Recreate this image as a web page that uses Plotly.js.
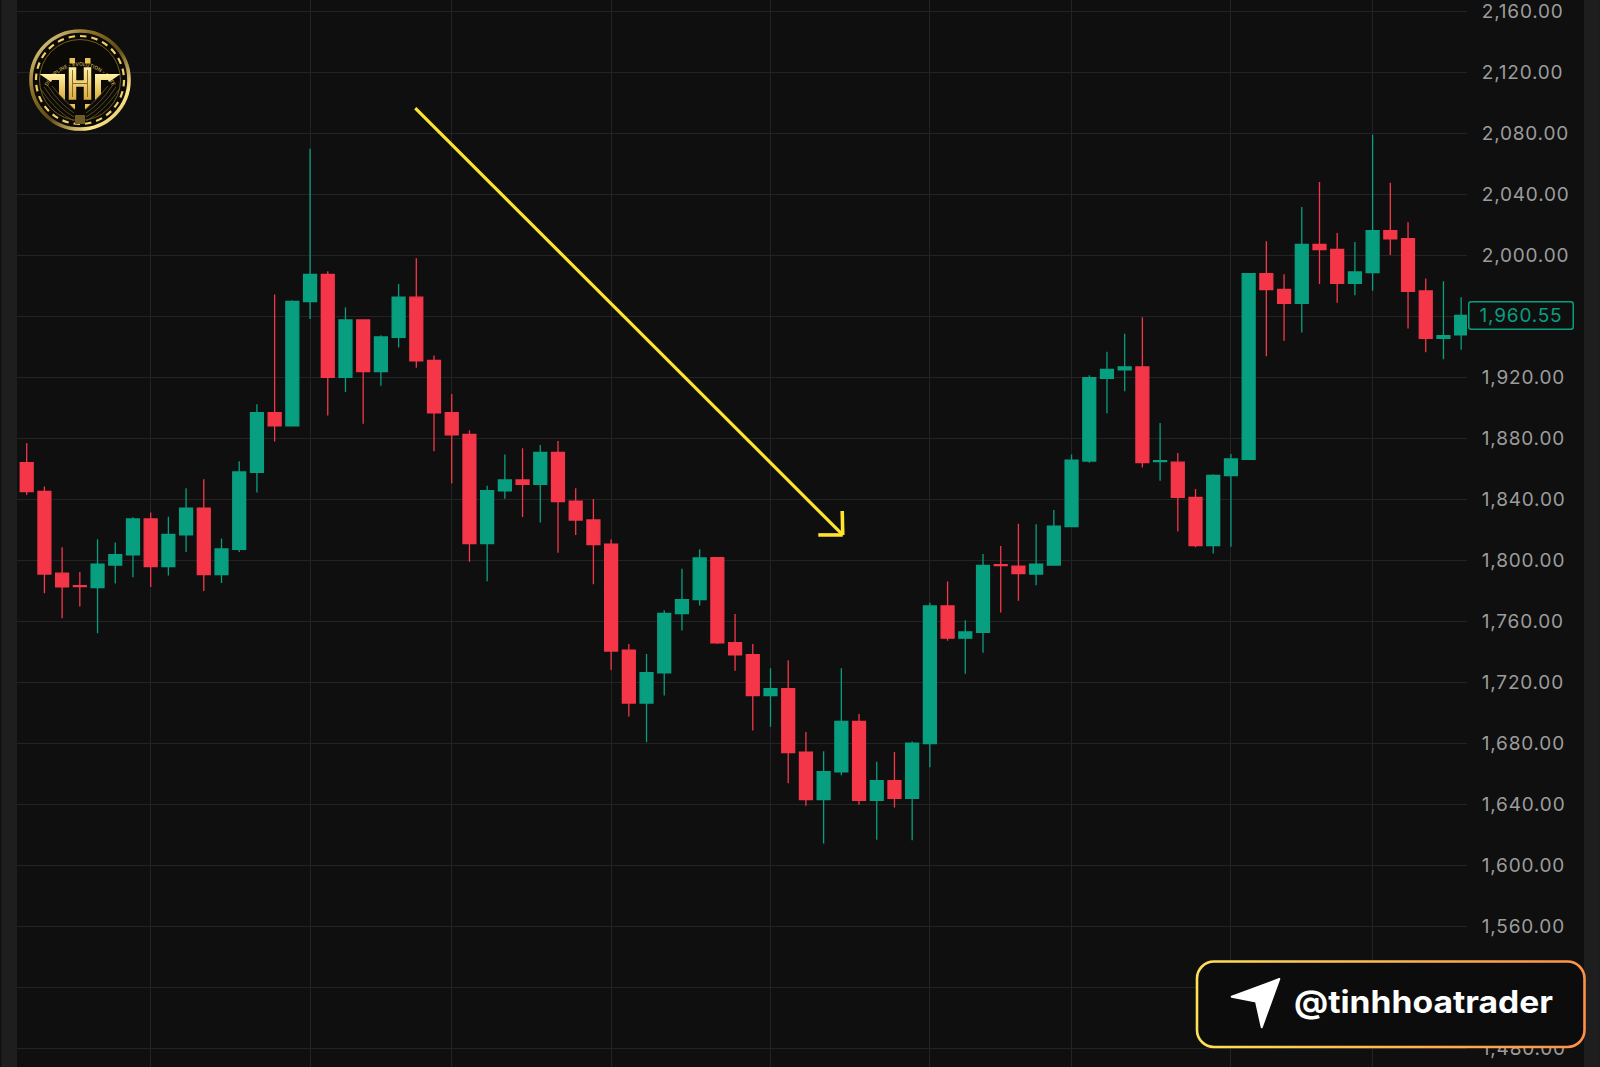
<!DOCTYPE html>
<html>
<head>
<meta charset="utf-8">
<script src="https://cdn.plot.ly/plotly-3.0.1.min.js"></script>
<style>
html,body{margin:0;padding:0;background:#0f0f0f;width:1600px;height:1067px;overflow:hidden}
#chart{position:absolute;left:0;top:0;width:1600px;height:1067px}
#over{position:absolute;left:0;top:0;width:1600px;height:1067px;pointer-events:none}
.ytick text{letter-spacing:0.8px}
.annotation-text-g text, .annotation text{letter-spacing:0.8px}
.annotation rect{rx:2.5px;ry:2.5px}
</style>
</head>
<body>
<div id="chart"></div>
<svg id="over" viewBox="0 0 1600 1067" xmlns="http://www.w3.org/2000/svg">
  <defs>
    <linearGradient id="badgeGrad" x1="0" y1="0" x2="1" y2="0">
      <stop offset="0" stop-color="#ffdf58"/><stop offset="1" stop-color="#ff9146"/>
    </linearGradient>
    <linearGradient id="coinRing" x1="0" y1="0" x2="1" y2="1">
      <stop offset="0" stop-color="#fff0a8"/><stop offset="0.3" stop-color="#8f7228"/>
      <stop offset="0.55" stop-color="#5f4a14"/><stop offset="0.8" stop-color="#ffe88c"/><stop offset="1" stop-color="#c9a544"/>
    </linearGradient>
    <linearGradient id="coinGold" x1="0" y1="0" x2="0" y2="1">
      <stop offset="0" stop-color="#fff2a6"/><stop offset="1" stop-color="#d9a93e"/>
    </linearGradient>
    <path id="coinArc" d="M 46 90 A 36 36 0 0 1 114 90"/>
  </defs>
  <!-- logo -->
  <circle cx="80" cy="80" r="49" fill="#0b0a06" stroke="url(#coinRing)" stroke-width="3.6"/>
  <circle cx="80" cy="80" r="44" fill="none" stroke="#efd06a" stroke-width="2.2" stroke-dasharray="6.5 5"/>
  <circle cx="80" cy="80" r="40.5" fill="none" stroke="#7a6426" stroke-width="0.9"/>
  <text font-family="Inter, sans-serif" font-size="5" font-weight="600" fill="#b89a4a"><textPath href="#coinArc" startOffset="50%" text-anchor="middle">DISCIPLINE - EVOLUTION - ELITE</textPath></text>
  <g fill="none" stroke="#6d5a24" stroke-width="0.8">
    <path d="M40 88 Q56 112 74 121"/><path d="M44 87 Q58 108 74 117"/><path d="M48 86 Q60 104 74 113"/><path d="M52 86 Q63 100 74 109"/>
    <path d="M120 88 Q104 112 86 121"/><path d="M116 87 Q102 108 86 117"/><path d="M112 86 Q100 104 86 113"/><path d="M108 86 Q97 100 86 109"/>
  </g>
  <rect x="75" y="115" width="10" height="9" fill="#6d5a24"/>
  <path d="M39.5 74 H65 V100 L59 94 V80 H52 L51 82 Z" fill="url(#coinGold)"/>
  <path d="M120.5 74 H95 V100 L101 94 V80 H108 L109 82 Z" fill="url(#coinGold)"/>
  <path d="M68.5 67 H76.5 V80 H83.5 V67 H91.5 V100 H83.5 V87 H76.5 V100 H68.5 Z" fill="url(#coinGold)" stroke="#0b0a06" stroke-width="0.5"/>
  <path d="M72.5 70 V97 M87.5 70 V97 M73 83.5 H87" fill="none" stroke="#7a5f1e" stroke-width="0.9"/>
  <path d="M69.5 58 L75 58 V63.5 H69.5 Z M90.5 58 L85 58 V63.5 H90.5 Z M69.5 104 H75 V109.5 Z M90.5 104 H85 V109.5 Z" fill="#e8c258"/>
  <!-- badge -->
  <rect x="1197" y="961.5" width="387.5" height="85.5" rx="17" ry="17" fill="#0c0c0c" stroke="url(#badgeGrad)" stroke-width="2.6"/>
  <path d="M1279.3 979 L1231.7 996.7 L1256 1001.5 L1261.7 1027.3 Z" fill="#ffffff" stroke="#ffffff" stroke-width="2" stroke-linejoin="round"/>
  <text x="1294" y="1013" font-family="Inter, sans-serif" font-size="31" font-weight="700" fill="#ffffff" textLength="259" lengthAdjust="spacingAndGlyphs">@tinhhoatrader</text>
</svg>
<script>
const candleIndex = [0,1,2,3,4,5,6,7,8,9,10,11,12,13,14,15,16,17,18,19,20,21,22,23,24,25,26,27,28,29,30,31,32,33,34,35,36,37,38,39,40,41,42,43,44,45,46,47,48,49,50,51,52,53,54,55,56,57,58,59,60,61,62,63,64,65,66,67,68,69,70,71,72,73,74,75,76,77,78,79,80,81];
const opens = [1864.0,1845.2,1791.5,1783.4,1782.1,1796.9,1803.5,1827.1,1795.8,1816.6,1834.1,1790.6,1807.2,1857.7,1896.8,1888.1,1969.6,1987.5,1920.0,1957.6,1923.7,1946.2,1972.5,1931.1,1896.8,1882.6,1810.9,1845.5,1852.7,1849.8,1870.8,1838.7,1826.4,1810.5,1741.0,1706.4,1726.1,1765.0,1774.2,1801.7,1746.0,1738.1,1711.3,1715.8,1674.1,1643.1,1661.2,1694.4,1642.6,1655.5,1643.9,1679.8,1770.0,1748.9,1752.8,1797.2,1796.1,1791.0,1796.9,1822.1,1865.1,1919.3,1924.8,1926.8,1864.7,1864.3,1841.3,1809.6,1855.5,1866.2,1988.0,1977.7,1968.5,2007.2,2003.9,1981.6,1988.6,2016.2,2010.9,1976.6,1945.6,1947.8];
const highs = [1876.7,1848.3,1808.5,1792.3,1813.8,1811.6,1828.2,1831.3,1828.6,1847.2,1853.1,1814.2,1864.9,1902.3,1974.2,1970.5,2069.9,1989.5,1965.7,1957.6,1947.5,1981.2,1998.0,1934.2,1909.1,1885.2,1848.9,1869.3,1873.4,1875.6,1878.2,1847.2,1840.2,1813.8,1745.1,1738.6,1767.2,1794.5,1807.2,1801.7,1764.8,1745.1,1729.2,1734.4,1687.4,1674.8,1729.2,1699.2,1667.8,1674.3,1681.1,1772.2,1786.0,1760.6,1804.1,1809.4,1824.0,1823.6,1833.0,1869.3,1921.3,1936.8,1948.6,1959.3,1890.0,1870.4,1846.8,1856.4,1869.7,1988.2,2009.2,1987.5,2031.7,2048.1,2014.6,2008.7,2079.1,2047.6,2021.6,1984.7,1982.9,1972.5];
const lows = [1842.8,1778.3,1762.0,1769.6,1752.1,1784.7,1788.8,1782.5,1790.0,1805.5,1779.9,1785.1,1805.5,1844.4,1877.8,1887.9,1958.2,1894.9,1910.4,1889.6,1914.5,1939.5,1926.3,1871.5,1850.3,1799.1,1786.2,1840.4,1828.4,1824.7,1805.0,1816.6,1784.3,1728.1,1697.5,1680.6,1711.3,1753.9,1770.3,1745.1,1727.6,1688.3,1690.9,1653.8,1639.1,1614.2,1659.0,1639.6,1616.8,1637.8,1616.4,1664.3,1747.3,1725.5,1739.4,1765.7,1773.5,1783.6,1796.7,1821.9,1864.0,1896.4,1910.8,1860.8,1852.2,1818.8,1808.5,1804.4,1808.9,1866.0,1933.8,1944.0,1949.3,1981.2,1968.9,1973.8,1976.8,2000.2,1951.9,1936.4,1931.8,1938.1];
const closes = [1845.0,1791.0,1782.5,1782.7,1797.4,1803.7,1827.1,1795.8,1817.0,1834.1,1790.6,1807.4,1857.9,1896.8,1888.1,1969.8,1987.5,1920.0,1957.6,1923.7,1946.4,1972.5,1930.7,1896.6,1882.2,1810.9,1845.7,1852.7,1849.8,1870.8,1838.5,1826.4,1810.3,1740.5,1706.4,1726.3,1765.2,1774.2,1801.5,1745.8,1737.9,1711.3,1715.8,1673.9,1643.1,1661.4,1694.4,1642.6,1655.5,1643.9,1680.0,1770.0,1748.9,1753.0,1796.7,1796.5,1791.3,1797.4,1822.3,1865.6,1919.8,1925.2,1926.8,1864.0,1865.3,1841.3,1809.6,1855.7,1866.4,1988.0,1977.5,1968.5,2007.2,2003.7,1981.6,1989.1,2016.2,2010.7,1976.4,1945.6,1947.3,1960.55];

const priceTicks = [1480,1520,1560,1600,1640,1680,1720,1760,1800,1840,1880,1920,1960,2000,2040,2080,2120,2160];
const priceLabels = ['1,480.00','','1,560.00','1,600.00','1,640.00','1,680.00','1,720.00','1,760.00','1,800.00','1,840.00','1,880.00','1,920.00','','2,000.00','2,040.00','2,080.00','2,120.00','2,160.00'];
const timeGridAt = [7,16,24,33,42,51,59,68,76];
const lastPrice = 1960.55;
const arrowStart = [21.94,2096.5];
const arrowTip = [46.08,1816.6];
const arrowBarbUp = [46.05,1832.3];
const arrowBarbLeft = [44.70,1816.6];

const UP = '#089e80', DOWN = '#f53649', GRID = '#232323', BG = '#0f0f0f';

const trace = {
  type:'candlestick', x:candleIndex, open:opens, high:highs, low:lows, close:closes,
  increasing:{line:{color:UP,width:1.3},fillcolor:UP},
  decreasing:{line:{color:DOWN,width:1.3},fillcolor:DOWN},
  whiskerwidth:0, hoverinfo:'skip', showlegend:false
};

const layout = {
  width:1600, height:1067, margin:{l:17,r:133,t:0,b:0,pad:0},
  paper_bgcolor:BG, plot_bgcolor:BG, showlegend:false, boxgap:0.27, boxgroupgap:0,
  font:{family:'Inter, sans-serif'},
  xaxis:{range:[-0.548,81.33], tickmode:'array', tickvals:timeGridAt, showticklabels:false, ticks:'',
         showgrid:true, gridcolor:GRID, gridwidth:1, zeroline:false, showline:false, rangeslider:{visible:false}, fixedrange:true},
  yaxis:{range:[1467.7,2167.4], side:'right', tickmode:'array', tickvals:priceTicks, ticktext:priceLabels,
         ticks:'outside', ticklen:10, tickcolor:'rgba(0,0,0,0)', ticklabeloverflow:'allow',
         tickfont:{family:'Inter, sans-serif',size:19,color:'#9c9c9c'},
         showgrid:true, gridcolor:GRID, gridwidth:1, zeroline:false, showline:false, fixedrange:true},
  shapes:[
    {type:'rect',xref:'paper',yref:'paper',x0:-0.01090,x1:0,y0:0,y1:1,fillcolor:'#1e1e1e',line:{width:0},layer:'above'},
    {type:'rect',xref:'paper',yref:'paper',x0:1.0807,x1:1.0917,y0:0,y1:1,fillcolor:'#1e1e1e',line:{width:0},layer:'above'},
    {type:'line',x0:arrowStart[0],y0:arrowStart[1],x1:arrowTip[0],y1:arrowTip[1],line:{color:'#ffe32e',width:3.2},layer:'above'},
    {type:'line',x0:arrowBarbUp[0],y0:arrowBarbUp[1],x1:arrowTip[0],y1:arrowTip[1],line:{color:'#ffe32e',width:3.6},layer:'above'},
    {type:'line',x0:arrowBarbLeft[0],y0:arrowBarbLeft[1],x1:arrowTip[0],y1:arrowTip[1],line:{color:'#ffe32e',width:3.6},layer:'above'}
  ],
  annotations:[
    {xref:'paper',yref:'y',x:1.0008,xanchor:'left',y:lastPrice,yanchor:'middle',showarrow:false,
     text:'1,960.55',font:{family:'Inter, sans-serif',size:19,color:UP},
     bgcolor:BG,bordercolor:UP,borderwidth:1.5,borderpad:1.5,width:100,height:23,align:'center'}
  ]
};

Plotly.newPlot('chart',[trace],layout,{displayModeBar:false,staticPlot:true});
</script>
</body>
</html>
